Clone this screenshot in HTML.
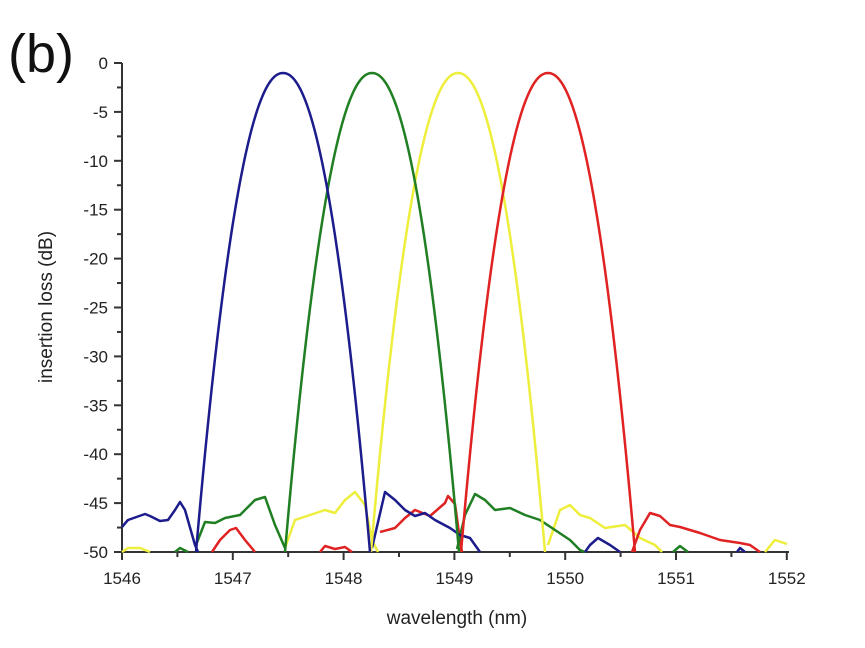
<!DOCTYPE html>
<html><head><style>
body{margin:0;background:#fff;}
svg{display:block;font-family:"Liberation Sans",sans-serif;}
</style></head><body>
<svg id="s" width="865" height="648" viewBox="0 0 865 648">
<text x="8" y="72" font-size="54" fill="#111">(b)</text>
<g id="ax" stroke="#333" stroke-width="2" fill="none"></g>
<g id="lab" font-size="17" fill="#222"></g>
<text x="457" y="624" font-size="19" text-anchor="middle" fill="#222">wavelength (nm)</text>
<text transform="translate(52,307) rotate(-90)" font-size="19" text-anchor="middle" fill="#222">insertion loss (dB)</text>
<g id="ser" fill="none" stroke-width="2.5" stroke-linejoin="round"></g>
</svg>
<script>
var NS="http://www.w3.org/2000/svg";
function el(p,t,a,txt){var e=document.createElementNS(NS,t);for(var k in a)e.setAttribute(k,a[k]);if(txt!=null)e.textContent=txt;document.getElementById(p).appendChild(e);}
var X0=122,PX=110.8,Y0=63,PY=9.78,YB=552;
el('ax','path',{d:'M122 63V552H789'});
for(var i=0;i<=50;i+=2.5){var y=Y0+i*PY,maj=(i%5==0);el('ax','path',{d:'M122 '+y+'H'+(122-(maj?8:5))});if(maj)el('lab','text',{x:108,y:y+6,'text-anchor':'end'},i==0?'0':'-'+i);}
for(var j=0;j<=12;j++){var x=X0+j*PX/2,maj=(j%2==0);el('ax','path',{d:'M'+x+' 552V'+(552+(maj?8:5))});if(maj)el('lab','text',{x:x,y:584,'text-anchor':'middle'},1546+j/2);}
var C={b:'#1c1c8c',g:'#1f7f22',y:'#eeee3c',r:'#e02222'};
function pl(c,pts){el('ser','polyline',{points:pts,stroke:c});}
function peak(c,cx){var p=[];for(var d=-87;d<=87;d+=1.5){var v=73+(YB-73)*Math.pow(Math.abs(d)/87,2.1);p.push((cx+d)+','+v.toFixed(1));}pl(c,p.join(' '));}
pl(C.y,'122,552 128,548 140,548 150,552');
pl(C.y,'285,548 295,520 310,515 325,510 335,513 345,500 355,492 365,505 372,540 378,552');
pl(C.y,'548,545 560,510 570,505 580,515 590,518 605,528 625,525 640,538 655,545 662,552');
pl(C.y,'765,552 775,540 787,544');
pl(C.r,'212,552 220,540 230,530 236,528 245,540 255,552');
pl(C.r,'320,552 325,546 335,549 345,547 352,552');
pl(C.r,'380,532 395,528 405,518 415,510 430,516 445,503 448,496 455,504 460,540 462,552');
pl(C.r,'632,552 640,530 650,513 660,516 670,525 680,527 700,533 720,540 740,543 750,545 760,552');
pl(C.g,'175,552 180,548 188,552');
pl(C.g,'196,545 205,522 215,523 225,518 240,515 255,500 265,497 275,525 285,548');
pl(C.g,'457,549 465,515 475,494 485,500 495,510 510,508 525,515 540,520 555,530 570,540 580,550 585,552');
pl(C.g,'673,552 680,546 688,552');
pl(C.b,'122,527 128,520 145,514 150,516 160,521 168,520 175,510 180,502 185,510 195,545 198,552');
pl(C.b,'372,548 385,492 395,500 405,510 415,516 425,513 435,520 450,528 460,535 470,538 480,552');
pl(C.b,'585,552 590,545 598,538 610,545 620,552');
pl(C.b,'737,552 740,548 745,552');
peak(C.y,458);peak(C.r,548);peak(C.g,372);peak(C.b,283);
</script>
</body></html>
